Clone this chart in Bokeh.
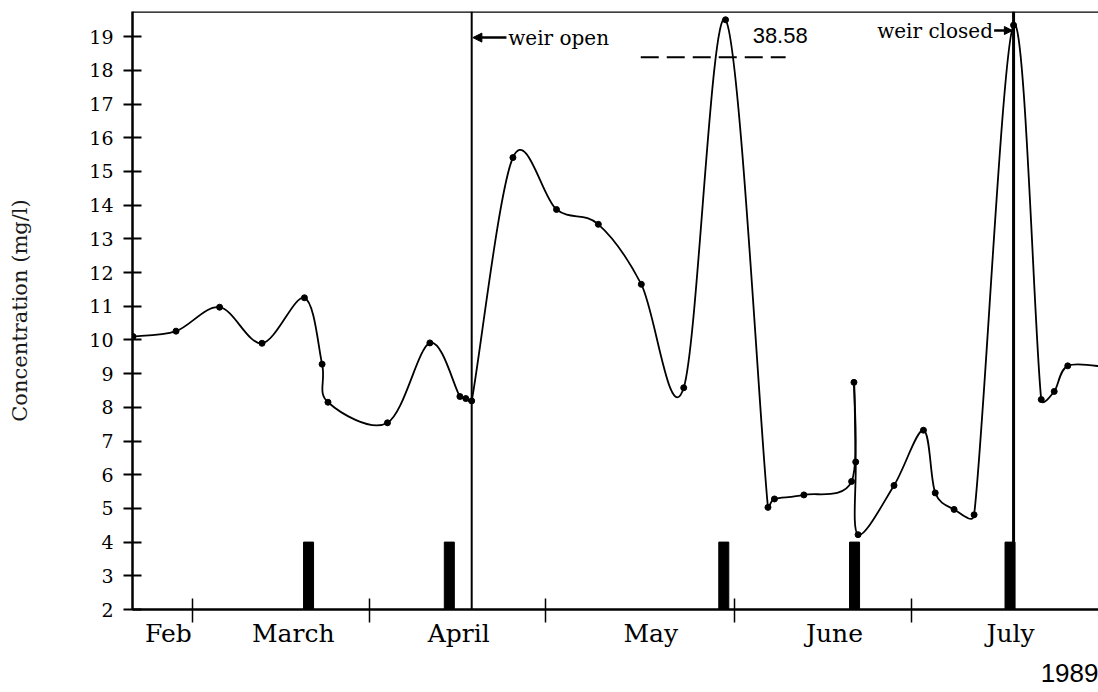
import numpy as np
from bokeh.plotting import figure
from bokeh.models import Range1d, FixedTicker, Span, Label, Arrow, NormalHead, Title
from bokeh.embed import file_html
from bokeh.resources import INLINE

# ---------------- data (x = days since 1 Feb 1989) ----------------
sample_day = [17.9, 25.2, 32.6, 39.8, 47.0, 50.0, 51.0, 61.1, 68.3, 73.4, 74.4, 75.4,
              82.4, 89.8, 96.9, 104.2, 111.4, 118.5, 125.7, 126.8, 131.8, 139.9, 140.3,
              140.6, 141.0, 147.1, 152.1, 154.1, 157.3, 160.7, 167.4, 172.1, 174.3, 176.6, 183.0]
concentration = [10.10, 10.26, 10.97, 9.90, 11.25, 9.28, 8.15, 7.54, 9.91, 8.32, 8.26, 8.19,
                 15.41, 13.87, 13.43, 11.65, 8.58, 38.58, 5.03, 5.28, 5.40, 5.80, 8.74,
                 6.38, 4.22, 5.68, 7.32, 5.46, 4.97, 4.81, 19.34, 8.23, 8.47, 9.23, 9.20]
storm_day = [47.7, 71.6, 118.2, 140.4, 166.8]
storm_top = [4, 4, 4, 4, 4]
month_names = ["Feb", "March", "April", "May", "June", "July"]
month_label_day = [23.9, 45.1, 73.2, 105.8, 137.0, 166.9]
month_start_day = [28, 58, 88, 120, 150]
y_ticks = list(range(2, 20))
weir_open_day = 75.4
weir_closed_day = 167.4
offscale_value = 38.58
year_text = "1989"

# ---------------- layout ----------------
W, H = 1098, 692
B_LEFT, B_RIGHT, B_TOP, B_BOTTOM = 132, 0, 11, 83
X0, X1 = 17.81, 181.82
Y0, Y1 = 2.0, 19.745
OFFSCALE_LEVEL = 19.5          # where the off-scale value is drawn
FONT_SERIF = "DejaVu Serif"
FONT_SANS = "Liberation Sans"

plot_conc = np.minimum(np.asarray(concentration, float), OFFSCALE_LEVEL)

p = figure(width=W, height=H, x_range=Range1d(X0, X1), y_range=Range1d(Y0, Y1),
           output_backend="svg", toolbar_location=None,
           min_border_left=B_LEFT, min_border_right=B_RIGHT,
           min_border_top=B_TOP, min_border_bottom=B_BOTTOM,
           outline_line_color=None, background_fill_color="white",
           border_fill_color="white")
p.grid.visible = False

frame_w = W - B_LEFT - B_RIGHT
frame_h = H - B_TOP - B_BOTTOM
kx = frame_w / (X1 - X0)
ky = frame_h / (Y1 - Y0)


def clamped_cr_beziers(xd, yd, kx, ky, limit=0.5):
    """Catmull-Rom curve through the points (as Beziers); handles limited to half a chord."""
    P = np.column_stack([np.asarray(xd, float) * kx, np.asarray(yd, float) * ky])
    n = len(P)
    T = np.array([(P[min(i + 1, n - 1)] - P[max(i - 1, 0)]) / 2.0 for i in range(n)])
    seg = {k: [] for k in ("x0", "y0", "x1", "y1", "cx0", "cy0", "cx1", "cy1")}
    for i in range(n - 1):
        chord = np.hypot(*(P[i + 1] - P[i]))
        h1, h2 = T[i] / 3.0, T[i + 1] / 3.0
        for hh in (h1, h2):
            L = np.hypot(*hh)
            if L > limit * chord and L > 0:
                hh *= limit * chord / L
        c1 = P[i] + h1
        c2 = P[i + 1] - h2
        seg["x0"].append(P[i, 0] / kx); seg["y0"].append(P[i, 1] / ky)
        seg["x1"].append(P[i + 1, 0] / kx); seg["y1"].append(P[i + 1, 1] / ky)
        seg["cx0"].append(c1[0] / kx); seg["cy0"].append(c1[1] / ky)
        seg["cx1"].append(c2[0] / kx); seg["cy1"].append(c2[1] / ky)
    return seg


curve = clamped_cr_beziers(sample_day, plot_conc, kx, ky)
p.bezier(x0=curve["x0"], y0=curve["y0"], x1=curve["x1"], y1=curve["y1"],
         cx0=curve["cx0"], cy0=curve["cy0"], cx1=curve["cx1"], cy1=curve["cy1"],
         line_color="black", line_width=1.8)
p.scatter(x=sample_day, y=plot_conc, size=6, color="black")

# storm bars
p.vbar(x=storm_day, bottom=Y0, top=storm_top, width=1.7, color="black")

# weir lines and top border
p.add_layout(Span(location=weir_open_day, dimension="height", line_color="black", line_width=2))
p.add_layout(Span(location=weir_closed_day, dimension="height", line_color="black", line_width=3))
p.add_layout(Span(location=Y1, dimension="width", line_color="black", line_width=2.5))

# off-scale marker
BREAK_X = (104.1, 128.7)
BREAK_Y = 18.39
p.segment(x0=[BREAK_X[0]], y0=[BREAK_Y], x1=[BREAK_X[1]], y1=[BREAK_Y],
          line_color="black", line_width=2, line_dash="18 8")
p.add_layout(Label(x=123.1, y=19.03, text=f"{offscale_value:.2f}", text_font=FONT_SANS,
                   text_font_size="22px", text_baseline="middle", text_color="black"))

# weir annotations
OPEN_Y, CLOSED_Y = 18.97, 19.18
p.add_layout(Label(x=81.6, y=OPEN_Y, text="weir open", text_font=FONT_SERIF,
                   text_font_size="20px", text_baseline="middle", text_color="black"))
p.add_layout(Arrow(end=NormalHead(size=9, fill_color="black", line_color="black"),
                   x_start=81.3, y_start=OPEN_Y, x_end=weir_open_day + 0.2, y_end=OPEN_Y,
                   line_color="black", line_width=2.5))
p.add_layout(Label(x=163.9, y=CLOSED_Y, text="weir closed", text_font=FONT_SERIF,
                   text_font_size="20px", text_baseline="middle", text_align="right",
                   text_color="black"))
p.add_layout(Arrow(end=NormalHead(size=8, fill_color="black", line_color="black"),
                   x_start=164.1, y_start=CLOSED_Y, x_end=weir_closed_day - 0.2, y_end=CLOSED_Y,
                   line_color="black", line_width=2.5))

# year (below the axis, right aligned)
p.add_layout(Title(text=year_text, align="right", text_font=FONT_SANS, text_font_size="26px",
                   text_font_style="normal", text_color="black", standoff=22, offset=0),
             "below")

# ---------------- axes ----------------
ya = p.yaxis[0]
ya.ticker = FixedTicker(ticks=y_ticks, minor_ticks=[])
ya.major_tick_in = 9
ya.major_tick_out = 9
ya.major_tick_line_width = 2
ya.minor_tick_line_color = None
ya.axis_line_width = 2.5
ya.major_label_text_font = FONT_SERIF
ya.major_label_text_font_size = "19px"
ya.major_label_text_color = "black"
ya.major_label_standoff = 10
ya.axis_label = "Concentration (mg/l)"
ya.axis_label_text_font = FONT_SERIF
ya.axis_label_text_font_size = "21px"
ya.axis_label_text_font_style = "normal"
ya.axis_label_text_color = "#1a1a1a"
ya.axis_label_standoff = 54

xa = p.xaxis[0]
xa.ticker = FixedTicker(ticks=month_label_day, minor_ticks=month_start_day)
xa.major_label_overrides = dict(zip(month_label_day, month_names))
xa.major_tick_in = 0
xa.major_tick_out = 0
xa.minor_tick_in = 11
xa.minor_tick_out = 13
xa.minor_tick_line_width = 1.5
xa.minor_tick_line_color = "black"
xa.axis_line_width = 2.5
xa.major_label_text_font = FONT_SERIF
xa.major_label_text_font_size = "25px"
xa.major_label_text_color = "black"
xa.major_label_standoff = -4

open("out.html", "w").write(file_html(p, INLINE))
